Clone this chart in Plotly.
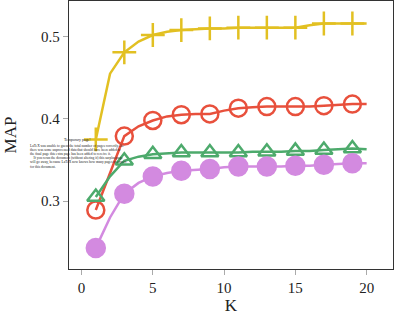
import plotly.graph_objects as go

K = list(range(1, 21))
tick_vals = [0, 5, 10, 15, 20]
tick_text = ["0", "5", "10", "15", "20"]
y_tick_vals = [0.3, 0.4, 0.5]
y_tick_text = ["0.3", "0.4", "0.5"]

yellow = [0.375, 0.455, 0.481, 0.494, 0.502, 0.506, 0.508, 0.509, 0.510, 0.510,
          0.511, 0.511, 0.511, 0.511, 0.511, 0.514, 0.516, 0.516, 0.516, 0.516]
red = [0.289, 0.335, 0.379, 0.391, 0.398, 0.403, 0.405, 0.406, 0.406, 0.410,
       0.413, 0.414, 0.415, 0.415, 0.415, 0.415, 0.416, 0.417, 0.418, 0.418]
green = [0.305, 0.330, 0.349, 0.354, 0.357, 0.358, 0.359, 0.359, 0.359, 0.359,
         0.359, 0.360, 0.360, 0.360, 0.361, 0.361, 0.362, 0.363, 0.364, 0.363]
purple = [0.243, 0.280, 0.309, 0.322, 0.330, 0.334, 0.337, 0.338, 0.339, 0.341,
          0.342, 0.342, 0.342, 0.342, 0.343, 0.343, 0.344, 0.345, 0.346, 0.346]

note_title = "Temporary page!"
note_lines = [
    "LaTeX was unable to guess the total number of pages correctly. As",
    "there was some unprocessed data that should have been added to",
    "the final page this extra page has been added to receive it.",
    "\u2003If you rerun the document (without altering it) this surplus page",
    "will go away, because LaTeX now knows how many pages to expect",
    "for this document.",
]

series = [
    (yellow, "#E2C022", "cross-thin-open", 17),
    (red, "#E8503C", "circle-open", 17),
    (green, "#4DAA6C", "triangle-up-open", 15),
    (purple, "#D38AE0", "circle", 18),
]

fig = go.Figure()
for vals, color, sym, size in series:
    fig.add_trace(go.Scatter(x=K, y=vals, mode="lines",
                             line=dict(color=color, width=2.5),
                             showlegend=False, hoverinfo="skip"))
    fig.add_trace(go.Scatter(x=K[::2], y=vals[::2], mode="markers",
                             marker=dict(symbol=sym, size=size, color=color,
                                         line=dict(color=color, width=2.5)),
                             showlegend=False))

# stray LaTeX note, positioned in paper fractions of the plot area (69..393 x 1..268 px)
PL, PW, PT, PH = 69, 324, 1, 267
note_font = dict(family="Liberation Serif", size=3.5, color="#222")
fig.add_annotation(text=note_title, xref="paper", yref="paper",
                   x=(77 - PL) / PW, y=1 - (139 - PT) / PH,
                   xanchor="center", yanchor="middle", showarrow=False,
                   font=dict(family="Liberation Serif", size=3.9, color="#222"))
for i, line in enumerate(note_lines):
    fig.add_annotation(text=line, xref="paper", yref="paper",
                       x=(28 - PL) / PW, y=1 - (145 + 4.3 * i - PT) / PH,
                       xanchor="left", yanchor="middle", showarrow=False, font=note_font)

axis_common = dict(showline=True, linecolor="#333", linewidth=1.3, mirror=True,
                   ticks="outside", ticklen=5, tickcolor="#aaa", tickwidth=1,
                   showgrid=False, zeroline=False,
                   tickfont=dict(family="Liberation Serif", size=15, color="#222"))

fig.update_xaxes(range=[-0.88, 21.85], tickvals=tick_vals, ticktext=tick_text,
                 title=dict(text="K", font=dict(family="Liberation Serif", size=17, color="#222"), standoff=2),
                 **axis_common)
fig.update_yaxes(range=[0.2173, 0.5434], tickvals=y_tick_vals, ticktext=y_tick_text,
                 title=dict(text="MAP", font=dict(family="Liberation Serif", size=17, color="#222"), standoff=20),
                 **axis_common)

fig.update_layout(width=394, height=317, margin=dict(l=69, r=1, t=1, b=48),
                  plot_bgcolor="white", paper_bgcolor="white")

fig.write_html("out.html", config={"displayModeBar": False},
               post_script="document.body.style.margin='0';document.body.style.padding='0';document.body.style.overflow='hidden';")
